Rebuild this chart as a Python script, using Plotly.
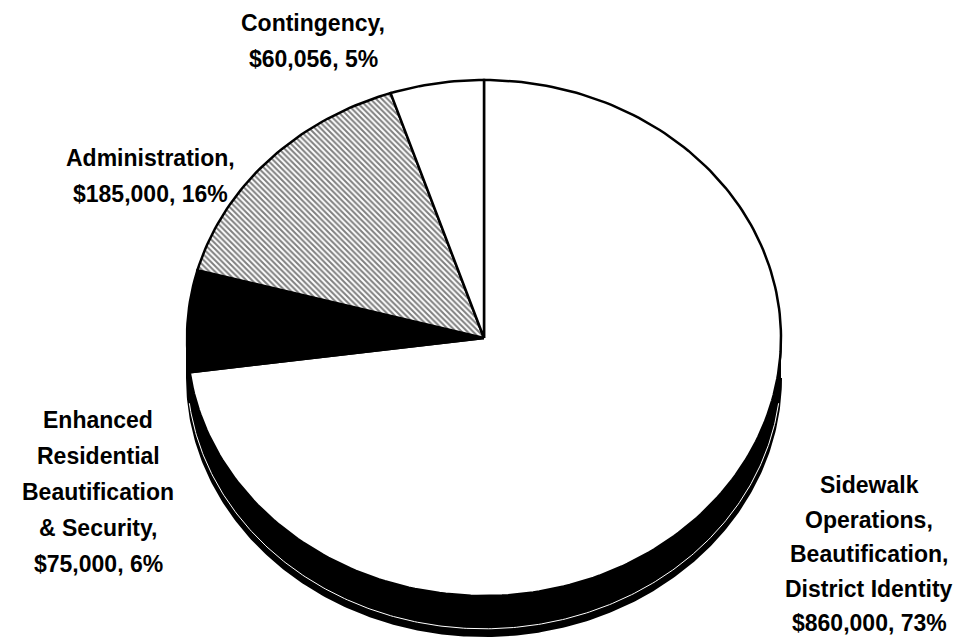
import numpy as np
import plotly.graph_objects as go

# ---------------- data ----------------
categories = [
    "Sidewalk Operations, Beautification, District Identity",
    "Enhanced Residential Beautification & Security",
    "Administration",
    "Contingency",
]
amounts = [860000, 75000, 185000, 60056]
label_lines = [
    ["Sidewalk", "Operations,", "Beautification,", "District Identity"],
    ["Enhanced", "Residential", "Beautification", "& Security,"],
    ["Administration,"],
    ["Contingency,"],
]

# ---------------- style / layout ----------------
W, H = 958, 643
CX, CY, R = 484, 338, 297            # pie centre and horizontal radius (px)
TILT = 258 / 297                     # vertical squash of the tilted disc
DEPTH = 40 / 297                     # thickness of the 3-D side
fills = ["white", "black", "white", "white"]
patterns = [None, None,
            dict(shape="\\", fgcolor="black", bgcolor="white", size=4, solidity=0.5),
            None]
label_pos = [(869, 485), (98, 420), (150, 158), (313, 23)]   # px, centre of first line
line_gap = [34.5, 36, 36, 36]
FONT = dict(family="Liberation Sans, Arial, sans-serif", size=23, color="black")

fig = go.Figure()

total = float(sum(amounts))
fracs = np.array(amounts) / total
starts = np.concatenate([[0.0], np.cumsum(fracs)[:-1]])

# ---- 3-D side band (visible front half of the disc) ----
th = np.linspace(np.pi / 2, 3 * np.pi / 2, 300)
xt = np.sin(th)
yt = TILT * np.cos(th)
fig.add_trace(go.Scatter(
    x=np.concatenate([xt, xt[::-1]]),
    y=np.concatenate([yt, yt[::-1] - DEPTH]),
    fill="toself", fillcolor="black", mode="lines",
    line=dict(color="black", width=2), hoverinfo="skip", showlegend=False))
# thin light streak inside the side band
fig.add_trace(go.Scatter(
    x=xt[12:-12], y=yt[12:-12] - DEPTH * 0.82, mode="lines",
    line=dict(color="white", width=1), hoverinfo="skip", showlegend=False))

# ---- top faces of the slices ----
for i, name in enumerate(categories):
    a = 2 * np.pi * starts[i]
    b = 2 * np.pi * (starts[i] + fracs[i])
    n = max(int(300 * fracs[i]), 20)
    t = np.linspace(a, b, n)
    xs = np.concatenate([[0.0], np.sin(t), [0.0]])
    ys = np.concatenate([[0.0], TILT * np.cos(t), [0.0]])
    kw = dict(fill="toself", fillcolor=fills[i])
    if patterns[i] is not None:
        kw["fillpattern"] = patterns[i]
    fig.add_trace(go.Scatter(
        x=xs, y=ys, mode="lines", line=dict(color="black", width=2.5),
        name=name, hoveron="fills",
        text=f"{name}: ${amounts[i]:,.0f} ({fracs[i]*100:.0f}%)",
        hoverinfo="text", showlegend=False, **kw))

# ---- labels ----
for i, lines in enumerate(label_lines):
    all_lines = lines + [f"${amounts[i]:,.0f}, {fracs[i]*100:.0f}%"]
    px, py = label_pos[i]
    for j, txt in enumerate(all_lines):
        fig.add_annotation(
            x=px / W, y=1 - (py + j * line_gap[i]) / H,
            xref="paper", yref="paper",
            text=f"<b>{txt}</b>", showarrow=False, xanchor="center",
            yanchor="middle", font=FONT)

fig.update_layout(
    width=W, height=H, margin=dict(l=0, r=0, t=0, b=0),
    paper_bgcolor="white", plot_bgcolor="white",
    xaxis=dict(range=[(0 - CX) / R, (W - CX) / R], visible=False, fixedrange=True),
    yaxis=dict(range=[(CY - H) / R, CY / R], visible=False, fixedrange=True),
    showlegend=False,
)

fig.write_html(
    "out.html",
    config={"displayModeBar": False},
    post_script="document.body.style.margin='0';document.body.style.overflow='hidden';",
)
